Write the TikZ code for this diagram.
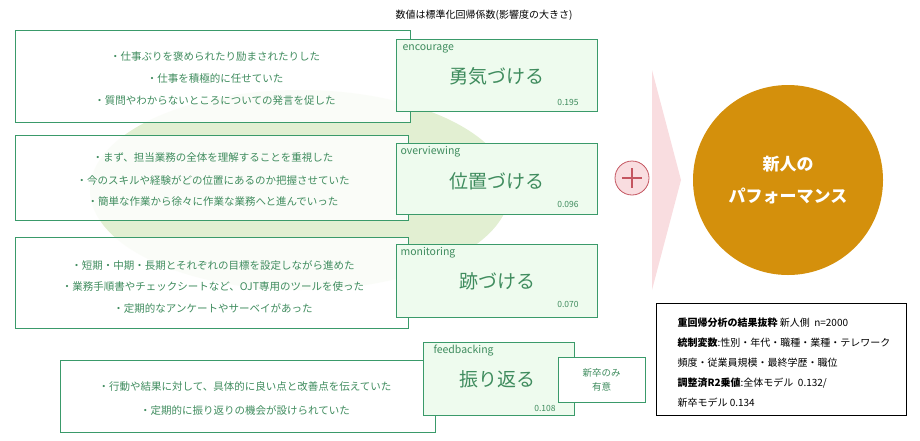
\documentclass[tikz,border=0pt]{standalone}
\usepackage{fontspec}
\setmainfont{Noto Sans CJK JP}
\usetikzlibrary{shapes.geometric}
\definecolor{gline}{HTML}{3A9A6A}
\definecolor{gtext}{HTML}{3F8C5E}
\definecolor{gfill}{HTML}{EEFBEE}
\definecolor{ell}{HTML}{E2EFD2}
\definecolor{gold}{HTML}{D4900C}
\definecolor{pinkf}{HTML}{F9DDE0}
\definecolor{pinkb}{HTML}{C45560}
\tikzset{
 desc/.style={draw=gline,fill=white,fill opacity=0.85,text opacity=1,line width=0.8pt},
 lab/.style={draw=gline,fill=gfill,line width=0.8pt},
 line/.style={font=\fontsize{10.5}{12}\selectfont,text=gtext},
 eng/.style={font=\fontsize{10.5}{12}\selectfont,text=gtext,anchor=west},
 big/.style={font=\fontsize{19}{22}\selectfont,text=gtext},
 num/.style={font=\fontsize{8.5}{10}\selectfont,text=gtext},
 st/.style={font=\fontsize{10}{12}\selectfont,anchor=west}
}
\begin{document}
\begin{tikzpicture}[x=1pt,y=-1pt]
\useasboundingbox (0,0) rectangle (920,440);
\node[font=\fontsize{10}{12}\selectfont] (cap) at (484,15) {数値は標準化回帰係数(影響度の大きさ)};
\fill[ell] (300,190) ellipse [x radius=210, y radius=100];
% box 1
\draw[desc] (15,30) rectangle (410,122);
\node[line] (a1) at (215,57) {・仕事ぶりを褒められたり励まされたりした};
\node[line] (a2) at (215,79) {・仕事を積極的に任せていた};
\node[line] (a3) at (215,101) {・質問やわからないところについての発言を促した};
\draw[lab] (396,39) rectangle (597,111);
\node[eng] (e1) at (399,49) {encourage};
\node[big] (b1) at (497,76) {勇気づける};
\node[num] (n1) at (568,102) {0.195};
% box 2
\draw[desc] (15,135) rectangle (408,220);
\node[line] at (213,158) {・まず、担当業務の全体を理解することを重視した};
\node[line] at (213,180) {・今のスキルや経験がどの位置にあるのか把握させていた};
\node[line] at (213,201) {・簡単な作業から徐々に作業な業務へと進んでいった};
\draw[lab] (396,143) rectangle (597,214);
\node[eng] at (397,152) {overviewing};
\node[big] at (497,181) {位置づける};
\node[num] at (568,204) {0.096};
% box 3
\draw[desc] (15,237) rectangle (408,328);
\node[line] at (213,265) {・短期・中期・長期とそれぞれの目標を設定しながら進めた};
\node[line] at (213,287) {・業務手順書やチェックシートなど、OJT専用のツールを使った};
\node[line] at (213,308) {・定期的なアンケートやサーベイがあった};
\draw[lab] (396,244) rectangle (597,317);
\node[eng] at (397,253) {monitoring};
\node[big] at (497,281) {跡づける};
\node[num] at (568,304) {0.070};
% box 4
\draw[desc] (60,360) rectangle (435,432);
\node[line] at (245,387) {・行動や結果に対して、具体的に良い点と改善点を伝えていた};
\node[line] at (245,410) {・定期的に振り返りの機会が設けられていた};
\draw[lab] (423,342) rectangle (574,415);
\node[eng] at (430,351) {feedbacking};
\node[big] at (497,379) {振り返る};
\node[num] at (545,408) {0.108};
\node[draw=gline,fill=white,line width=0.8pt,minimum width=87pt,minimum height=45pt,align=center,font=\fontsize{9.5}{14}\selectfont,text=gtext] (only) at (601.5,379.5) {新卒のみ\\有意};
% plus and arrow
\fill[pinkf] (652,70) -- (681,180) -- (652,290) -- cycle;
\node[circle,draw=pinkb,fill=pinkf,minimum size=34pt,line width=0.8pt] (plus) at (632,178) {};
\draw[pinkb,line width=1.6pt] (plus.center)+(-10,0) -- +(10,0);
\draw[pinkb,line width=1.6pt] (plus.center)+(0,-10) -- +(0,10);
% big circle
\node[circle,fill=gold,minimum size=190pt,align=center,text=white,font=\fontsize{17}{32}\selectfont\bfseries] (perf) at (788,180) {新人の\\パフォーマンス};
% stats
\draw[black,line width=0.8pt] (656,303) rectangle (906,415);
\node[st] at (674,323) {\textbf{重回帰分析の結果抜粋} 新人側\ \ n=2000};
\node[st] at (674,343) {\textbf{統制変数}:性別・年代・職種・業種・テレワーク};
\node[st] at (674,363) {頻度・従業員規模・最終学歴・職位};
\node[st] at (674,383) {\textbf{調整済R2乗値}:全体モデル\ \ 0.132/};
\node[st] at (674,403) {新卒モデル 0.134};
\end{tikzpicture}
\end{document}
